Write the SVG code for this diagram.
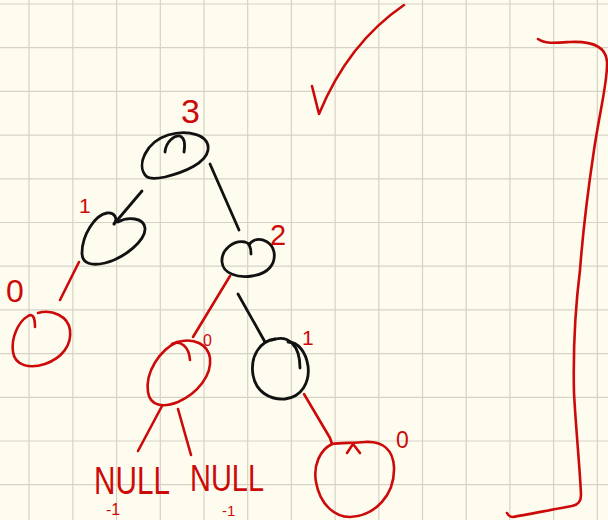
<svg xmlns="http://www.w3.org/2000/svg" width="608" height="520" viewBox="0 0 608 520">
<style>
.grid{stroke:#d6d3c6;stroke-width:1.2;fill:none}
.blk{stroke:#111;stroke-width:2.8;fill:none;stroke-linecap:round;stroke-linejoin:round}
.red{stroke:#cc0a0a;stroke-width:2.6;fill:none;stroke-linecap:round;stroke-linejoin:round}
.lbl{fill:#cc0a0a;font-family:"Liberation Sans","DejaVu Sans",sans-serif}
</style>
<rect width="608" height="520" fill="#fefcef"/>
<path class="grid" d="M29,0V520M72.9,0V520M116.6,0V520M160.3,0V520M204,0V520M247.7,0V520M291.4,0V520M335.1,0V520M378.8,0V520M422.5,0V520M466.2,0V520M509.9,0V520M553.6,0V520M597.3,0V520M0,4H608M0,47.7H608M0,91.4H608M0,135.1H608M0,178.8H608M0,222.5H608M0,266.2H608M0,309.9H608M0,353.6H608M0,397.3H608M0,441H608M0,484.7H608"/>
<g id="connectors">
<path class="blk" d="M142,191 L114,224"/>
<path class="blk" d="M210,164 L239,230"/>
<path class="blk" d="M238,294 L265,342"/>
<path class="red" d="M79,262 L60,300"/>
<path class="red" d="M230,276 L193,337"/>
<path class="red" d="M162,406 L138,451"/>
<path class="red" d="M178,409 L191,455"/>
<path class="red" d="M304,394 L330,438 L332,444"/>
</g>
<g id="node-root">
<path class="blk" d="M146,176 C136,165 146,142 168,135 C188,129 210,135 208,150 C206,163 185,172 165,177 C155,179 149,179 146,176 Z"/>
<path class="blk" d="M165,152 C166,141 175,135 180,136 C185,138 185,146 184,152"/>
<text class="lbl" x="181" y="123" font-size="34">3</text>
</g>
<g id="node-left">
<path class="blk" d="M114,224 C118,219 115,212 107,213 C95,215 82,235 82,253 C82,264 92,266 105,263 C125,258 146,240 145,228 C144,218 128,216 118,222"/>
<text class="lbl" x="79" y="213" font-size="21">1</text>
</g>
<g id="node-2">
<path class="blk" d="M251,254 C251,248 250,243 245,242 C233,240 221,250 222,262 C223,274 238,278 252,276 C268,274 276,264 274,252 C272,242 262,238 255,240 C252,241 250,243 249,245"/>
<text class="lbl" x="270" y="245" font-size="29">2</text>
</g>
<g id="node-left-leaf">
<path class="red" d="M35,327 C35,318 33,313 28,316 C18,322 11,338 13,352 C15,366 30,369 45,364 C62,358 72,345 70,330 C68,316 52,309 38,313"/>
<text class="lbl" x="6" y="302" font-size="32">0</text>
</g>
<g id="node-red">
<path class="red" d="M177,342 C160,350 145,372 148,392 C150,406 163,408 178,402 C198,393 212,375 210,358 C208,345 195,337 177,342 Z"/>
<path class="red" d="M172,344 C180,340 189,346 190,360"/>
<text class="lbl" x="203" y="346" font-size="16">0</text>
</g>
<g id="null-left">
<text class="lbl" x="94" y="494" font-size="38" textLength="76" lengthAdjust="spacingAndGlyphs">NULL</text>
<text class="lbl" x="106" y="515" font-size="16">-1</text>
</g>
<g id="null-right">
<text class="lbl" x="190" y="491" font-size="36" textLength="74" lengthAdjust="spacingAndGlyphs">NULL</text>
<text class="lbl" x="222" y="516" font-size="15">-1</text>
</g>
<g id="node-right">
<path class="blk" d="M275,339 C260,341 250,356 253,375 C256,392 270,400 285,399 C302,397 310,382 308,366 C306,352 298,342 288,342"/>
<path class="blk" d="M272,340 C288,334 300,345 300,368"/>
<text class="lbl" x="302" y="345" font-size="21">1</text>
</g>
<g id="node-right-leaf">
<path class="red" d="M332,444 C320,450 313,465 316,482 C320,505 335,517 350,517 C375,516 395,495 394,467 C393,450 383,441 365,442 C352,443 340,443 332,444"/>
<path class="red" d="M347,453 L353,444 L360,453"/>
<text class="lbl" x="396" y="448" font-size="23">0</text>
</g>
<g id="check">
<path class="red" d="M312,86 L319,114 C335,75 360,35 404,5"/>
</g>
<g id="bracket">
<path class="red" d="M538,39 C545,44 555,43 570,42 C590,41 606,45 607,62 C608,80 600,110 594,150 C588,190 583,230 580,270 C575,310 573,350 574,393 C576,430 580,470 581,495 C581,502 578,505 572,506 C550,510 525,515 513,517 C510,517 508,515 507,513"/>
</g>
</svg>
